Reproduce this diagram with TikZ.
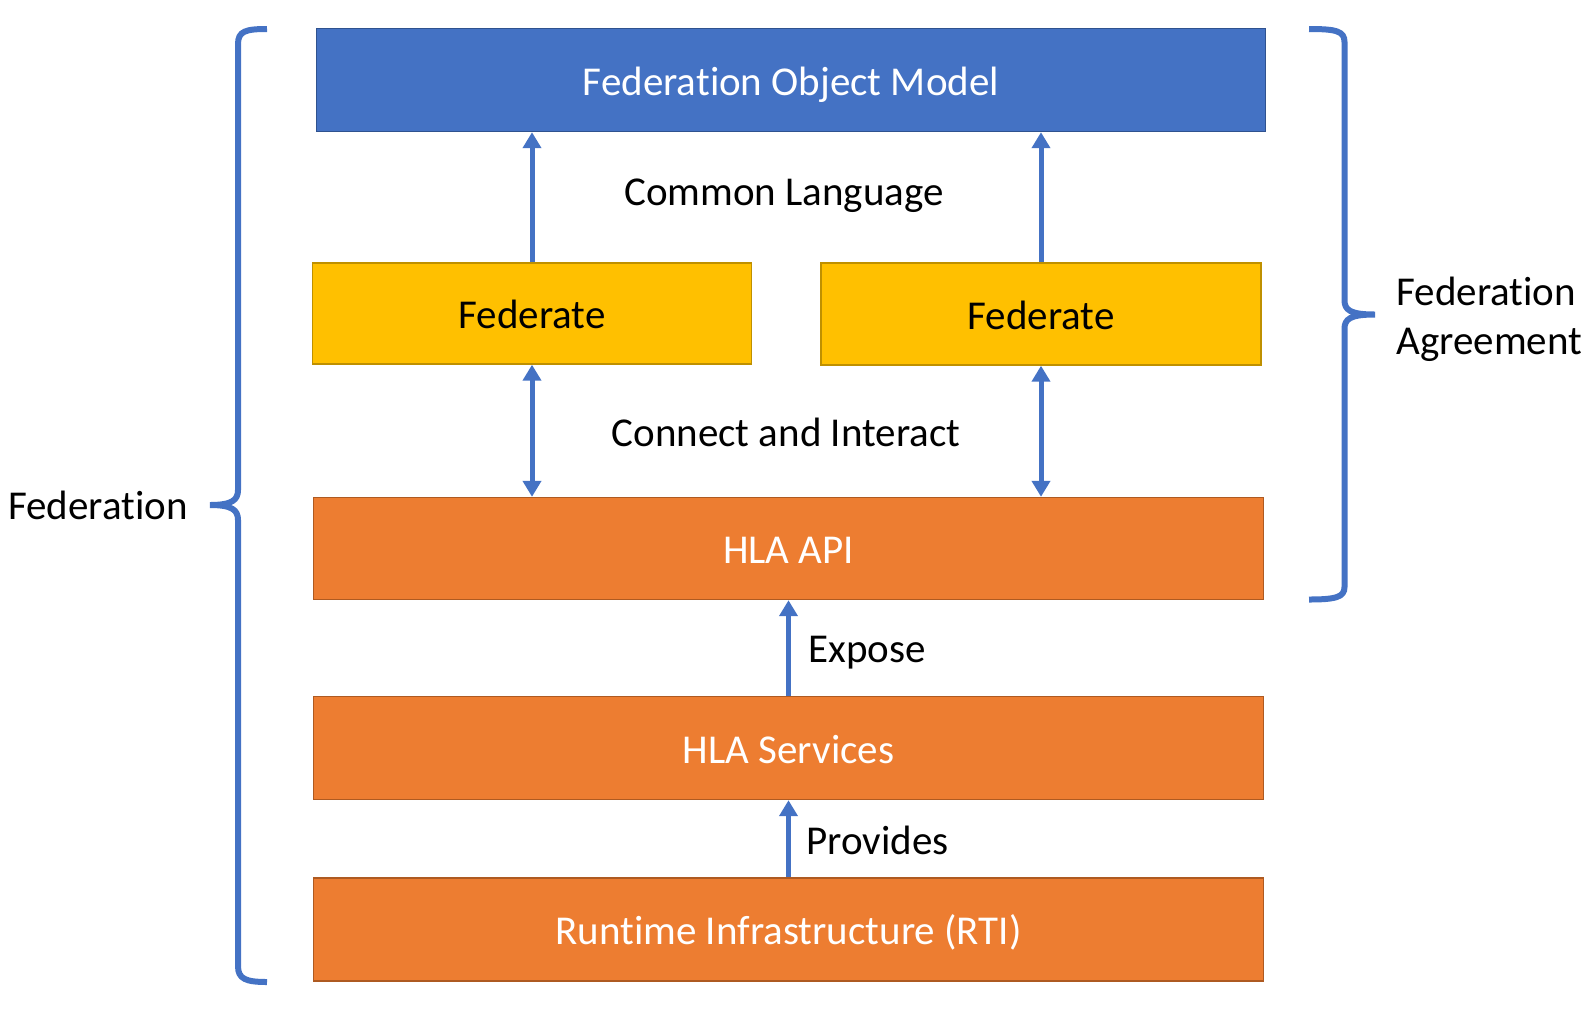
\documentclass[tikz,border=0pt]{standalone}
\usepackage{fontspec}
\setmainfont{Carlito}[Ligatures=NoCommon]
\usetikzlibrary{arrows.meta}
\definecolor{fomblue}{HTML}{4472C4}
\definecolor{fomedge}{HTML}{2F528F}
\definecolor{fedyellow}{HTML}{FFC000}
\definecolor{fededge}{HTML}{BF9000}
\definecolor{hlaorange}{HTML}{ED7D31}
\definecolor{hlaedge}{HTML}{AE5A21}
\tikzset{
  boxbase/.style={rectangle, line width=0.7pt, inner sep=0pt,
    text height=15pt, text depth=0pt,
    font=\fontsize{20.5}{24.5}\selectfont},
  fombox/.style={boxbase, fill=fomblue, draw=fomedge, text=white},
  fedbox/.style={boxbase, fill=fedyellow, draw=fededge, text=black},
  hlabox/.style={boxbase, fill=hlaorange, draw=hlaedge, text=white},
  lbl/.style={font=\fontsize{20.5}{24.5}\selectfont, inner sep=0pt, text=black, text depth=0pt},
  conn/.style={draw=fomblue, line width=2.5pt, -{Triangle[length=8pt,width=9pt]}},
  dconn/.style={draw=fomblue, line width=2.5pt, {Triangle[length=8pt,width=9pt]}-{Triangle[length=8pt,width=9pt]}},
  bracepath/.style={draw=fomblue, line width=3pt, line cap=butt},
}
\begin{document}
\begin{tikzpicture}[x=0.5pt,y=-0.5pt]
\useasboundingbox (0,0) rectangle (1591,1009);
% boxes
\node[fombox, minimum width=474.5pt, minimum height=51.5pt] (fom) at (791,80) {Federation Object Model};
\node[fedbox, minimum width=219.5pt, minimum height=50.5pt] (fed1) at (532,313.5) {Federate};
\node[fedbox, minimum width=220pt, minimum height=51pt] (fed2) at (1041,314) {Federate};
\node[hlabox, minimum width=475pt, minimum height=51pt] (api) at (788.5,548.5) {HLA API};
\node[hlabox, minimum width=475pt, minimum height=51.5pt] (svc) at (788.5,748) {HLA Services};
\node[hlabox, minimum width=475pt, minimum height=51.5pt] (rti) at (788.5,929.5) {Runtime Infrastructure (RTI)};
% connectors
\draw[conn] (fed1.north) -- (fed1.north |- fom.south);
\draw[conn] (fed2.north) -- (fed2.north |- fom.south);
\draw[dconn] (fed1.south) -- (fed1.south |- api.north);
\draw[dconn] (fed2.south) -- (fed2.south |- api.north);
\draw[conn] (svc.north) -- (api.south);
\draw[conn] (rti.north) -- (svc.south);
% labels
\node[lbl] (common) at (784,192) {Common Language};
\node[lbl] (connect) at (786,432) {Connect and Interact};
\node[lbl, anchor=west] (expose) at (808,649) {Expose};
\node[lbl, anchor=west] (provides) at (806,840) {Provides};
\node[lbl, anchor=east] (fedlbl) at (188,505) {Federation};
\node[lbl, anchor=west, align=left] (agree) at (1396,316) {Federation\\Agreement};
% left brace
\draw[bracepath] (267,29) .. controls (246,29) and (238,31) .. (238,44)
  -- (238,490) .. controls (238,500) and (232,505) .. (210,505)
  .. controls (232,505) and (238,510) .. (238,520)
  -- (238,966) .. controls (238,979) and (246,982) .. (267,982);
% right brace
\draw[bracepath] (1309,29) .. controls (1336,29) and (1344.5,31) .. (1344.5,42)
  -- (1344.5,300) .. controls (1344.5,310) and (1350,314.5) .. (1375,314.5)
  .. controls (1350,314.5) and (1344.5,319) .. (1344.5,329)
  -- (1344.5,587) .. controls (1344.5,597) and (1336,599.5) .. (1309,599.5);
\end{tikzpicture}
\end{document}
